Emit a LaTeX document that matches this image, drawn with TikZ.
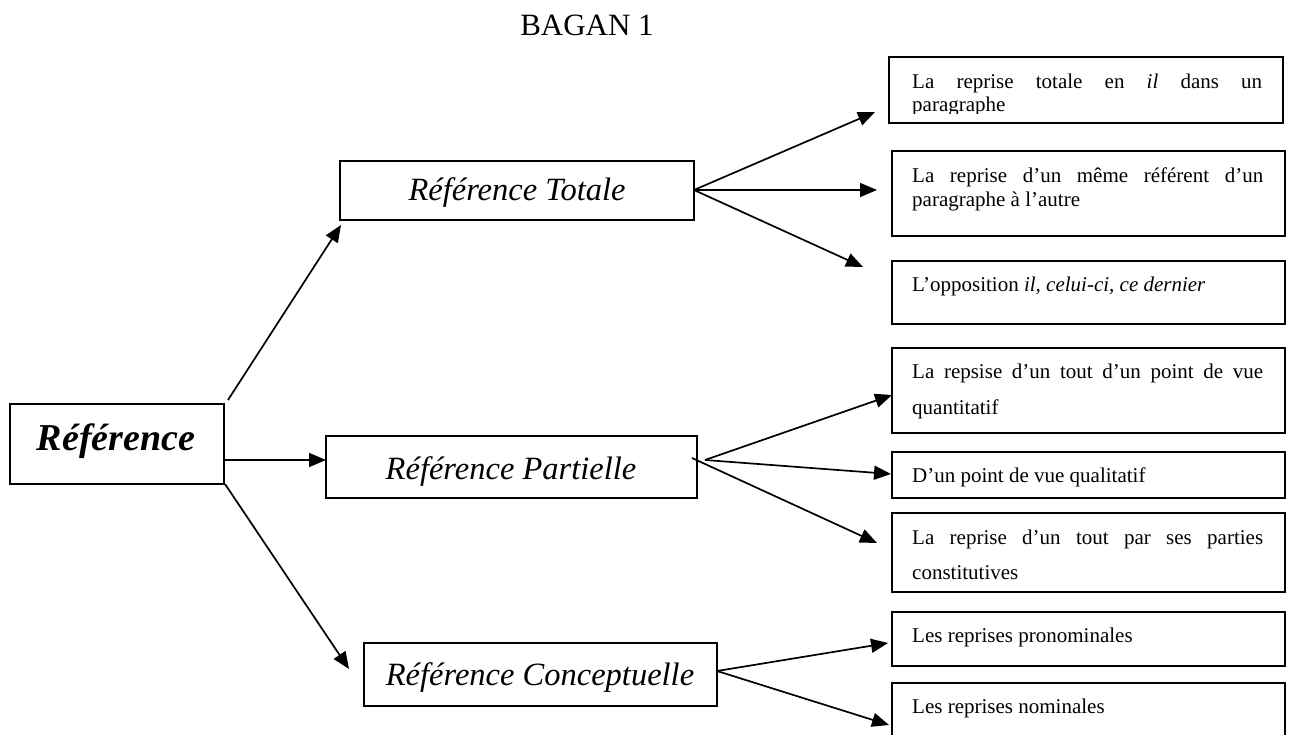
\documentclass[tikz,border=0pt]{standalone}
\usepackage{fontspec}
\setmainfont{Liberation Serif}
\usetikzlibrary{arrows.meta}
\begin{document}
\begin{tikzpicture}[x=1pt,y=-1pt,
  box/.style={draw, line width=1.7pt, inner sep=0pt, outer sep=0pt, anchor=north west},
  rt/.style={inner sep=0pt, anchor=base west, font=\fontsize{21}{24}\selectfont},
  mt/.style={inner sep=0pt, anchor=base, font=\fontsize{32.5}{38}\selectfont\itshape},
  arr/.style={line width=1.7pt, -{Triangle[length=17pt,width=14pt]}},
]
\useasboundingbox (0,0) rectangle (1292,735);
\clip (0,0) rectangle (1292,735);

% title
\node[inner sep=0pt, anchor=base, font=\fontsize{31}{36}\selectfont] (title) at (587,36) {BAGAN 1};

% root
\node[box, minimum width=214pt, minimum height=80pt] (ref) at (10,404) {};
\node[inner sep=0pt, anchor=base, font=\fontsize{38}{44}\selectfont\bfseries\itshape] (reft) at (116,450) {Référence};

% middle boxes
\node[box, minimum width=354pt, minimum height=59pt] (tot) at (340,161) {};
\node[mt] (tott) at (517,201) {Référence Totale};
\node[box, minimum width=371pt, minimum height=62pt] (par) at (326,436) {};
\node[mt] (part) at (511,479) {Référence Partielle};
\node[box, minimum width=353pt, minimum height=63pt] (con) at (364,643) {};
\node[mt] (cont) at (540,685) {Référence Conceptuelle};

% right boxes
\node[box, minimum width=394pt, minimum height=66pt] (b1) at (889,57) {};
\begin{scope}
\clip (895,60) rectangle (1280,113.5);
\node[rt] (b1a) at (912,89) {\makebox[350pt][s]{La reprise totale en \textit{il} dans un}};
\node[rt] (b1b) at (912,112) {paragraphe};
\end{scope}

\node[box, minimum width=393pt, minimum height=85pt] (b2) at (892,151) {};
\node[rt] (b2a) at (912,183) {\makebox[351pt][s]{La reprise d’un même référent d’un}};
\node[rt] (b2b) at (912,207) {paragraphe à l’autre};

\node[box, minimum width=393pt, minimum height=63pt] (b3) at (892,261) {};
\node[rt] (b3a) at (912,291) {L’opposition \textit{il, celui-ci, ce dernier}};

\node[box, minimum width=393pt, minimum height=85pt] (b4) at (892,348) {};
\node[rt] (b4a) at (912,378) {\makebox[351pt][s]{La repsise d’un tout d’un point de vue}};
\node[rt] (b4b) at (912,414) {quantitatif};

\node[box, minimum width=393pt, minimum height=46pt] (b5) at (892,452) {};
\node[rt] (b5a) at (912,482) {D’un point de vue qualitatif};

\node[box, minimum width=393pt, minimum height=79pt] (b6) at (892,513) {};
\node[rt] (b6a) at (912,544) {\makebox[351pt][s]{La reprise d’un tout par ses parties}};
\node[rt] (b6b) at (912,579) {constitutives};

\node[box, minimum width=393pt, minimum height=54pt] (b7) at (892,612) {};
\node[rt] (b7a) at (912,642) {Les reprises pronominales};

\node[box, minimum width=393pt, minimum height=70pt] (b8) at (892,683) {};
\node[rt] (b8a) at (912,713) {Les reprises nominales};

% connector points
\coordinate (r1) at (228,400);
\coordinate (r2) at (224,460);
\coordinate (r3) at (225,484);
\coordinate (totTip) at (341,225);
\coordinate (conTip) at (349,669);
\coordinate (fT) at (694,190);
\coordinate (fP) at (705,460);
\coordinate (fP2) at (692,458);
\coordinate (fC) at (717,671);
\coordinate (t1) at (875,112);
\coordinate (t2) at (877,190);
\coordinate (t3) at (863,267);
\coordinate (t4) at (892,395);
\coordinate (t5) at (891,474);
\coordinate (t6) at (877,543);
\coordinate (t7) at (888,643);
\coordinate (t8) at (889,725);

% connectors from root
\draw[arr] (r1) -- (totTip);
\draw[arr] (r2) -- (par.west |- r2);
\draw[arr] (r3) -- (conTip);

% fans
\draw[arr] (fT) -- (t1);
\draw[arr] (fT) -- (t2);
\draw[arr] (fT) -- (t3);
\draw[arr] (fP) -- (t4);
\draw[arr] (fP) -- (t5);
\draw[arr] (fP2) -- (t6);
\draw[arr] (fC) -- (t7);
\draw[arr] (fC) -- (t8);
\end{tikzpicture}
\end{document}
